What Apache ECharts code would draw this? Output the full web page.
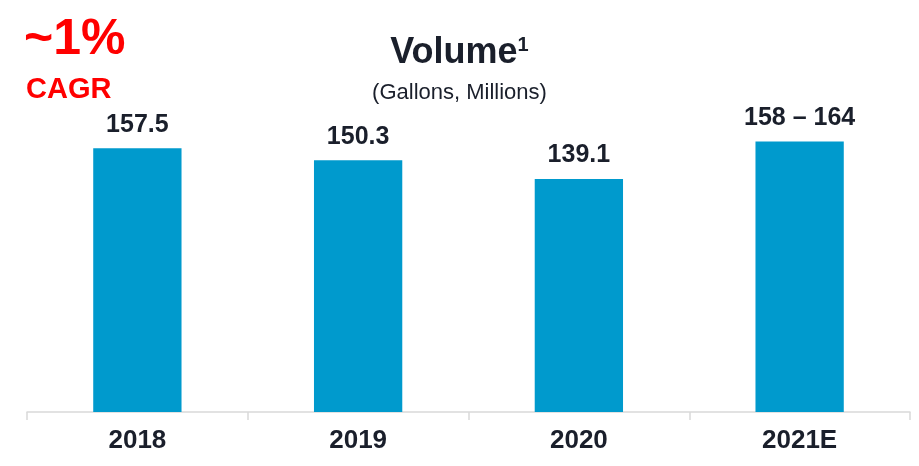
<!DOCTYPE html>
<html>
<head>
<meta charset="utf-8">
<script src="https://cdn.jsdelivr.net/npm/echarts@6/dist/echarts.min.js"></script>
<style>
  html, body { margin: 0; padding: 0; background: #ffffff; }
  #main { width: 919px; height: 466px; }
</style>
</head>
<body>
<div id="main"></div>
<script>
const years = ['2018', '2019', '2020', '2021E']
const volumes = [157.5, 150.3, 139.1, 161.5]
const valueLabels = ['157.5', '150.3', '139.1', '158 – 164']

const chart = echarts.init(document.getElementById('main'), null, { renderer: 'canvas' })
const font = '"Liberation Sans", Arial, sans-serif'

const option = {
  backgroundColor: '#ffffff',
  animation: false,
  textStyle: { fontFamily: font },
  title: [{
    text: '{main|Volume}{sup|1}',
    left: 'center',
    top: 30,
    textStyle: {
      rich: {
        main: { fontSize: 36, fontWeight: 'bold', color: '#1a1f2b', fontFamily: font },
        sup: { fontSize: 20, fontWeight: 'bold', color: '#1a1f2b', fontFamily: font, verticalAlign: 'top', padding: [0, 0, 14, 0] }
      }
    }
  }, {
    text: '(Gallons, Millions)',
    left: 'center',
    top: 77,
    textStyle: { fontSize: 22, fontWeight: 'normal', color: '#1a1f2b', fontFamily: font }
  }, {
    text: '~1%',
    left: 19,
    top: 10,
    textStyle: { fontSize: 50, fontWeight: 'bold', color: '#ff0000', fontFamily: font }
  }, {
    text: 'CAGR',
    left: 21,
    top: 70,
    textStyle: { fontSize: 29, fontWeight: 'bold', color: '#ff0000', fontFamily: font }
  }],
  grid: { left: 27, right: 9, top: 77, bottom: 54, containLabel: false },
  xAxis: {
    type: 'category',
    data: years,
    axisLine: { lineStyle: { color: '#d9d9d9', width: 1.5 } },
    axisTick: { show: true, length: 8, lineStyle: { color: '#d9d9d9', width: 1.5 } },
    axisLabel: { fontSize: 26, fontWeight: 'bold', color: '#1a1f2b', margin: 16, fontFamily: font }
  },
  yAxis: {
    type: 'value',
    min: 0,
    max: 200,
    show: false,
    splitLine: { show: false }
  },
  series: [{
    type: 'bar',
    data: volumes,
    barWidth: '40%',
    itemStyle: { color: '#009acd' },
    label: {
      show: true,
      position: 'top',
      distance: 11,
      fontSize: 25,
      fontWeight: 'bold',
      color: '#1a1f2b',
      fontFamily: font,
      formatter: p => valueLabels[p.dataIndex]
    }
  }]
}

chart.setOption(option)
</script>
</body>
</html>
